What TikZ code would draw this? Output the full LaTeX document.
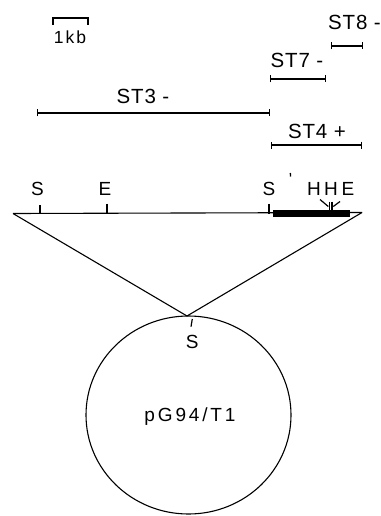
\documentclass[tikz,border=0pt]{standalone}
\usepackage{fontspec}
\setmainfont{Liberation Sans}[LetterSpace=12]
\usetikzlibrary{arrows.meta,shapes.geometric}
\begin{document}
\begin{tikzpicture}[x=1pt,y=-1pt,
  lbl/.style={inner sep=0pt,font=\fontsize{19}{19}\selectfont},
  stl/.style={inner sep=0pt,font=\fontsize{20.5}{21}\selectfont\addfontfeature{LetterSpace=4}},
  seg/.style={line width=1.1pt,{Bar[width=7pt,line width=1.1pt]}-{Bar[width=7pt,line width=1.1pt]}},
  ln/.style={line width=1.1pt},
  tick/.style={line width=1.2pt}]
\useasboundingbox (0,0) rectangle (380,516);
% scale bar
\coordinate (kbL) at (53,18);
\coordinate (kbR) at (88,18);
\draw[ln] ([yshift=-7pt]kbL) -- (kbL) -- (kbR) -- ([yshift=-7pt]kbR);
\node[lbl,font=\fontsize{17.5}{18}\selectfont] (kb) at (70,37) {1kb};
% fragments
\coordinate (st8a) at (331,46);  \coordinate (st8b) at (363,46);
\coordinate (st7a) at (270,79);  \coordinate (st7b) at (326,79);
\coordinate (st3a) at (37,113);  \coordinate (st3b) at (270,113);
\coordinate (st4a) at (271,145); \coordinate (st4b) at (362,145);
\draw[seg] (st8a) -- (st8b);
\draw[seg] (st7a) -- (st7b);
\draw[seg] (st3a) -- (st3b);
\draw[seg] (st4a) -- (st4b);
\node[stl,anchor=east] (st8) at (381,22) {ST8 -};
\node[stl] (st7) at (297,60) {ST7 -};
\node[stl] (st3) at (143,96) {ST3 -};
\node[stl] (st4) at (317,131) {ST4 +};
% insert map
\coordinate (mL) at (13,213.5);
\coordinate (mR) at (362,212.5);
\coordinate (X) at (187,316);
\draw[ln] (mL) -- (mR);
\fill (273,210) rectangle (350,216.8);
\draw[ln] (mL) -- (X) -- (mR);
% site ticks
\draw[tick] (40,205) -- (40,213.5);
\draw[tick] (107,203.5) -- (107,213.5);
\draw[tick] (269,203.5) -- (269,213.5);
\draw[tick] (320,199.5) -- (328.3,206.5);
\draw[tick] (329.5,201.5) -- (329.5,211);
\draw[tick] (332,201.5) -- (332,211);
\draw[tick] (333.3,206.5) -- (340,201.5);
\node[lbl] (s1) at (37.5,189) {S};
\node[lbl] (e1) at (105,189) {E};
\node[lbl] (s2) at (269,189) {S};
\draw[line width=1.3pt] (290.3,173) -- (290.6,176.5);
\node[lbl] (h1) at (314,189) {H};
\node[lbl] (h2) at (331,189) {H};
\node[lbl] (e2) at (348,189) {E};
% plasmid
\node[draw,line width=1.1pt,ellipse,minimum width=205pt,minimum height=198pt,inner sep=0pt] (pl) at (188.5,415) {};
\draw[tick] (192.3,319) -- (191,326.7);
\node[lbl] (s3) at (192.3,341.5) {S};
\node[lbl,font=\fontsize{19}{19}\selectfont\addfontfeature{LetterSpace=15}] (pg) at (190,417) {pG94/T1};
\end{tikzpicture}
\end{document}
